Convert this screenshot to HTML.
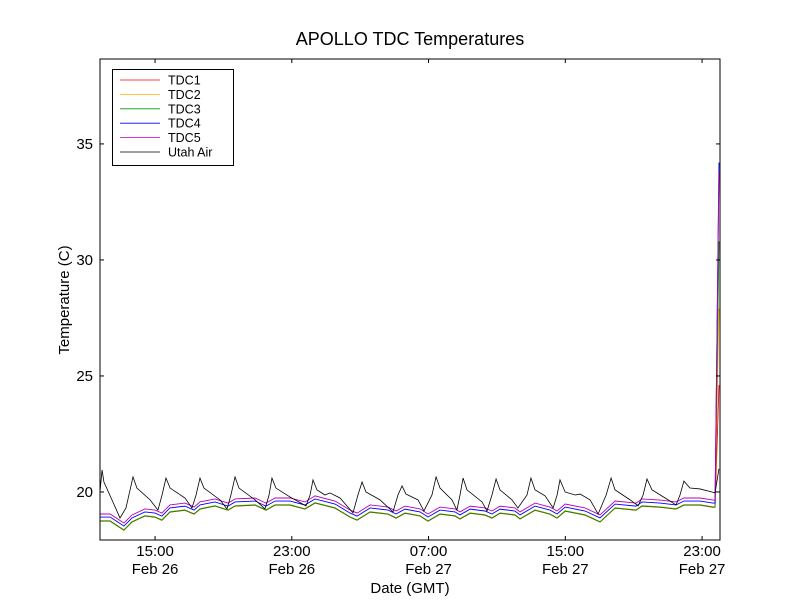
<!DOCTYPE html>
<html><head><meta charset="utf-8"><style>
body{margin:0;background:#fff}
svg text{font-family:"Liberation Sans","DejaVu Sans",sans-serif;fill:#000}
</style></head><body>
<svg id="chart" width="800" height="600" viewBox="0 0 800 600" xmlns="http://www.w3.org/2000/svg">
<rect width="800" height="600" fill="#fff"/>
<text x="410" y="45" font-size="18" text-anchor="middle">APOLLO TDC Temperatures</text>
<text x="0" y="0" font-size="15" text-anchor="middle" transform="translate(69,300) rotate(-90)">Temperature (C)</text>
<text x="410" y="593" font-size="15" text-anchor="middle">Date (GMT)</text>
<g id="series"></g>
<g id="axes"></g>
<rect x="100" y="59" width="620" height="481" fill="none" stroke="#000" stroke-width="1"/>
<g id="legend"></g>
</svg>
<script>
const xTickHours=[15,23,31,39,47];
const xTickTimes=["15:00","23:00","07:00","15:00","23:00"];
const xTickDates=["Feb 26","Feb 26","Feb 27","Feb 27","Feb 27"];
const yTicks=[20,25,30,35];
const seriesNames=["TDC1","TDC2","TDC3","TDC4","TDC5","Utah Air"];
const seriesColors=["#ff0000","#ffaa00","#009900","#0000ff","#bb00bb","#000000"];
const tdcHours=[11.78,12.37,12.83,13.18,13.65,14.41,15.0,15.4,15.87,16.75,17.28,17.63,18.51,19.27,19.68,20.85,21.49,22.02,22.9,23.77,24.36,25.53,26.41,26.82,27.58,28.63,29.1,29.62,30.5,30.97,31.67,32.55,32.84,33.43,34.3,34.71,35.18,36.06,36.35,37.23,38.1,38.52,38.99,40.16,41.03,41.91,43.14,43.49,44.54,45.48,45.94,46.88,47.64,47.76,47.99];
const tdc3=[18.75,18.75,18.53,18.36,18.71,18.97,18.92,18.79,19.14,19.22,19.05,19.27,19.40,19.22,19.40,19.44,19.22,19.44,19.44,19.27,19.53,19.31,18.92,18.79,19.14,19.05,18.88,19.09,18.97,18.75,19.05,18.97,18.84,19.09,19.01,18.88,19.09,19.01,18.84,19.22,19.05,18.88,19.18,19.01,18.71,19.31,19.22,19.40,19.35,19.27,19.44,19.44,19.35,19.35,30.8];
const tdc1=[18.74,18.74,18.52,18.35,18.70,18.96,18.91,18.78,19.13,19.21,19.04,19.26,19.39,19.21,19.39,19.43,19.21,19.43,19.43,19.26,19.52,19.30,18.91,18.78,19.13,19.04,18.87,19.08,18.96,18.74,19.04,18.96,18.83,19.08,19.00,18.87,19.08,19.00,18.83,19.21,19.04,18.87,19.17,19.00,18.70,19.30,19.21,19.39,19.34,19.26,19.43,19.43,19.34,19.34,24.6];
const tdc2=[18.76,18.76,18.54,18.37,18.72,18.98,18.93,18.80,19.15,19.23,19.06,19.28,19.41,19.23,19.41,19.45,19.23,19.45,19.45,19.28,19.54,19.32,18.93,18.80,19.15,19.06,18.89,19.10,18.98,18.76,19.06,18.98,18.85,19.10,19.02,18.89,19.10,19.02,18.85,19.23,19.06,18.89,19.19,19.02,18.72,19.32,19.23,19.41,19.36,19.28,19.45,19.45,19.36,19.36,27.9];
const tdc4=[18.92,18.92,18.70,18.53,18.88,19.14,19.09,18.96,19.31,19.39,19.22,19.44,19.57,19.39,19.57,19.61,19.39,19.61,19.61,19.44,19.70,19.48,19.09,18.96,19.31,19.22,19.05,19.26,19.14,18.92,19.22,19.14,19.01,19.26,19.18,19.05,19.26,19.18,19.01,19.39,19.22,19.05,19.35,19.18,18.88,19.48,19.39,19.57,19.52,19.44,19.61,19.61,19.52,19.52,34.2];
const tdc5=[19.05,19.05,18.83,18.66,19.01,19.27,19.22,19.09,19.44,19.52,19.35,19.57,19.70,19.52,19.70,19.74,19.52,19.74,19.74,19.57,19.83,19.61,19.22,19.09,19.44,19.35,19.18,19.39,19.27,19.05,19.35,19.27,19.14,19.39,19.31,19.18,19.39,19.31,19.14,19.52,19.35,19.18,19.48,19.31,19.01,19.61,19.52,19.70,19.65,19.57,19.74,19.74,19.65,19.65,33.8];
const airHours=[11.78,11.90,12.01,12.48,12.95,13.30,13.71,13.94,14.71,15.17,15.41,15.64,15.88,16.75,17.16,17.40,17.63,17.86,18.80,19.21,19.44,19.68,19.91,20.85,21.43,21.67,21.84,22.07,22.90,23.83,24.07,24.24,24.47,24.94,25.23,25.82,26.58,26.87,27.11,27.34,28.16,28.92,29.21,29.45,29.68,30.38,30.73,31.20,31.44,31.67,32.37,32.66,32.84,33.02,33.25,34.13,34.42,34.71,34.95,35.18,35.88,36.23,36.76,36.99,37.23,37.82,38.29,38.52,38.69,38.99,39.57,39.87,40.45,40.92,41.39,41.68,41.91,42.79,43.26,43.55,43.78,44.07,44.84,45.48,45.71,45.94,46.29,46.88,47.58,47.76,47.99];
const airTemp=[20.00,20.95,20.43,19.66,18.88,19.31,20.65,20.17,19.66,19.22,19.87,20.60,20.17,19.74,19.31,19.87,20.60,20.17,19.66,19.27,19.87,20.65,20.17,19.66,19.27,19.87,20.60,20.17,19.78,19.40,19.87,20.52,20.09,19.87,19.96,19.74,19.10,19.87,20.43,20.00,19.66,19.14,19.87,20.26,19.91,19.66,19.18,19.87,20.65,20.17,19.66,19.22,19.87,20.60,20.09,19.57,19.18,19.87,20.56,20.09,19.66,19.31,19.87,20.60,20.09,19.83,19.31,19.87,20.52,20.00,19.87,19.91,19.66,19.05,19.87,20.60,20.09,19.66,19.40,19.87,20.56,20.09,19.74,19.44,19.87,20.47,20.17,20.13,20.00,19.96,21.00];

const X0=100,X1=720,Y0=540,Y1=59,H0=11.78,H1=48.05,V0=17.93,V1=38.66;
function xs(h){return X0+(h-H0)/(H1-H0)*(X1-X0);}
function ys(v){return Y0-(v-V0)/(V1-V0)*(Y0-Y1);}
const NS="http://www.w3.org/2000/svg";
function mk(tag,attrs,parent){const e=document.createElementNS(NS,tag);for(const k in attrs)e.setAttribute(k,attrs[k]);parent.appendChild(e);return e;}
const sg=document.getElementById('series'),ag=document.getElementById('axes'),lg=document.getElementById('legend');
const tdcData=[tdc1,tdc2,tdc3,tdc4,tdc5];
tdcData.forEach((arr,i)=>{
  const p=mk('polyline',{points:arr.map((v,j)=>xs(tdcHours[j]).toFixed(2)+','+ys(v).toFixed(2)).join(' '),fill:'none',stroke:seriesColors[i],'stroke-width':0.9},sg);
  
  
});
const air=mk('polyline',{points:airTemp.map((v,j)=>xs(airHours[j]).toFixed(2)+','+ys(v).toFixed(2)).join(' '),fill:'none',stroke:'#000','stroke-width':0.8},sg);


xTickHours.forEach((h,i)=>{
  const x=xs(h);
  const t1=mk('line',{x1:x,x2:x,y1:540,y2:536,stroke:'#000'},ag);
  
  
  mk('line',{x1:x,x2:x,y1:59,y2:63,stroke:'#000'},ag);
  const a=mk('text',{x:x,y:556,'font-size':15,'text-anchor':'middle'},ag);a.textContent=xTickTimes[i];
  
  
  const b=mk('text',{x:x,y:574,'font-size':15,'text-anchor':'middle'},ag);b.textContent=xTickDates[i];
  
  
});
yTicks.forEach(v=>{
  const y=ys(v);
  const t=mk('line',{x1:100,x2:104,y1:y,y2:y,stroke:'#000'},ag);
  
  
  mk('line',{x1:716,x2:720,y1:y,y2:y,stroke:'#000'},ag);
  const l=mk('text',{x:93,y:y+5,'font-size':15,'text-anchor':'end'},ag);l.textContent=v;
  
  
});
mk('rect',{x:112.5,y:69.5,width:121,height:96,fill:'#fff',stroke:'#000'},lg);
seriesNames.forEach((n,i)=>{
  const y=80+i*14.4;
  const ln=mk('line',{x1:120,x2:160,y1:y,y2:y,stroke:seriesColors[i],'stroke-width':0.8},lg);
  
  
  const tx=mk('text',{x:168,y:y+4.5,'font-size':12.5},lg);tx.textContent=n;
  
  
});
</script>
</body></html>
